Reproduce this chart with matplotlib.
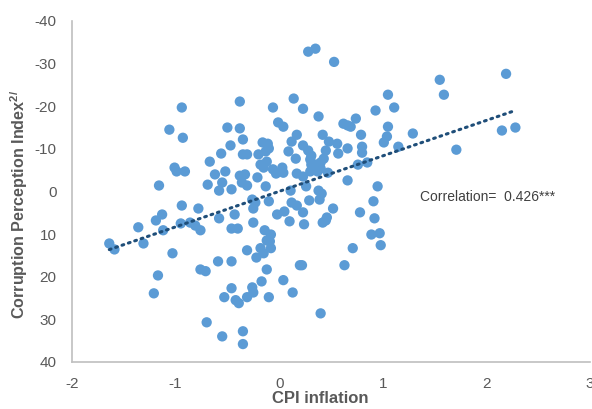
import matplotlib
matplotlib.use("Agg")
import matplotlib.pyplot as plt
import numpy as np

# CPI inflation (x) vs Corruption Perception Index (y)
cpi = [
    -1.64, -1.59, -1.36, -1.31, -1.21, -1.17, -1.19, -1.13, -1.12, -1.16,
    -1.03, -1.06, -0.94, -0.93, -1.01, -0.99, -0.91, -0.94, -0.95, -0.86,
    -0.81, -0.76, -0.78, -0.76, -0.71, -0.69, -0.67, -0.62, -0.58, -0.56,
    -0.55, -0.52, -0.50, -0.47, -0.46, -0.38, -0.38, -0.35, -0.35, -0.31,
    -0.38, -0.33, -0.36, -0.31, -0.21, -0.59, -0.58, -0.43, -0.46, -0.40,
    -0.46, -0.46, -0.53, -0.42, -0.39, -0.70, -0.55, -0.35, -0.35, -0.31,
    -0.31, -0.26, -0.25, -0.26, -0.23, -0.25, -0.25, -0.18, -0.15, -0.22,
    -0.17, -0.12, -0.10, -0.14, -0.12, -0.08, -0.09, -0.08, -0.10, -0.02,
    0.05, 0.04, 0.10, 0.12, 0.13, 0.20, -0.13, -0.16, -0.11, -0.20,
    -0.13, -0.10, -0.18, -0.12, -0.15, -0.06, 0.03, -0.03, 0.04, 0.09,
    -0.06, -0.01, 0.04, 0.12, 0.14, 0.17, 0.16, 0.17, 0.11, 0.23,
    0.28, 0.35, 0.53, 0.38, 0.62, 0.66, 0.69, 0.74, 0.93, 1.05,
    1.11, 1.05, 1.04, 1.01, 1.29, 1.15, 0.79, 0.80, 0.80, 0.42,
    0.48, 0.56, 0.66, 0.57, 0.45, 0.43, 0.23, 0.28, 0.31, 0.30,
    0.31, 0.36, 0.40, 0.40, 0.30, 0.37, 0.47, 0.23, 0.76, 0.85,
    0.66, 0.26, 0.95, 1.55, 1.59, 2.19, 2.15, 2.28, 1.71, 0.38,
    0.41, 0.39, 0.29, 0.17, 0.23, 0.52, 0.24, 0.42, 0.45, 0.46,
    0.78, 0.91, 0.92, 0.89, 0.97, 0.98, 0.71, 0.63, 0.22, 0.40,
]
cpi_index = [
    12.2, 13.6, 8.4, 12.2, 23.9, 19.7, 6.8, 5.4, 9.1, -1.4,
    14.5, -14.5, -19.7, -12.6, -5.6, -4.7, -4.7, 3.3, 7.5, 7.3,
    8.0, 9.1, 4.0, 18.3, 18.7, -1.6, -7.0, -4.0, -0.2, -8.9,
    -2.1, -4.7, -15.0, -10.8, -0.5, -21.1, -14.8, -12.2, -8.7, -8.7,
    -3.7, -4.0, -2.1, -1.4, -3.3, 16.4, 6.3, 5.4, 8.7, 8.7,
    16.4, 22.7, 24.8, 25.5, 26.2, 30.7, 34.0, 32.8, 35.8, 13.8,
    24.8, 22.5, 23.7, 1.9, 2.6, 4.0, 7.3, 13.3, 14.5, 15.5,
    21.1, 18.3, 24.8, 9.1, 11.5, 10.1, 11.7, 13.3, 2.3, 5.4,
    4.7, 20.8, 7.0, 2.6, 23.7, 17.3, -1.2, -11.5, -11.2, -8.7,
    -9.4, -10.1, -6.3, -7.0, -5.6, -5.2, -5.6, -4.2, -4.4, -9.4,
    -19.7, -16.2, -15.2, -11.7, -21.8, -13.3, -7.7, -4.2, -0.2, -19.4,
    -32.8, -33.5, -30.4, -17.6, -15.9, -15.5, -15.2, -17.1, -19.0, -22.7,
    -19.7, -15.2, -12.9, -11.5, -13.6, -10.5, -13.3, -10.5, -9.1, -13.3,
    -11.7, -11.2, -10.1, -8.9, -9.6, -7.7, -10.8, -9.6, -8.4, -7.5,
    -6.3, -6.3, -6.8, -5.4, -4.7, -4.7, -4.4, -3.5, -6.3, -6.8,
    -2.6, -1.2, -1.2, -26.2, -22.7, -27.6, -14.3, -15.0, -9.8, -0.2,
    0.5, 1.9, 2.1, 3.3, 4.9, 4.0, 7.7, 7.3, 6.8, 6.1,
    4.9, 2.3, 6.3, 10.1, 9.8, 12.6, 13.3, 17.3, 17.3, 28.6,
]

x_ticks = [-2, -1, 0, 1, 2, 3]
y_ticks = [-40, -30, -20, -10, 0, 10, 20, 30, 40]

plt.rcParams["font.family"] = ["Liberation Sans Narrow", "Liberation Sans", "DejaVu Sans"]
plt.rcParams["mathtext.default"] = "regular"
plt.rcParams["axes.unicode_minus"] = False

fig = plt.figure(figsize=(5.92, 4.09), dpi=100)
ax = fig.add_axes([0.1216, 0.115, 0.875, 0.8337])

ax.scatter(cpi, cpi_index, s=55, color="#5B9BD5", edgecolors="none", zorder=2)

# linear trendline over the data range
x = np.array(cpi)
y = np.array(cpi_index)
slope, intercept = np.polyfit(x, y, 1)
xs = np.array([x.min(), x.max()])
ax.plot(xs, slope * xs + intercept, color="#1F4E79", linewidth=2.2,
        linestyle=(0, (0.6, 1.6)), dash_capstyle="round", zorder=3)

ax.text(1.36, 1.2, "Correlation=  0.426***", fontsize=10, color="#404040",
        va="center", ha="left")

ax.set_xlim(-2, 3)
ax.set_ylim(40, -40)
ax.set_xticks(x_ticks)
ax.set_yticks(y_ticks)
ax.tick_params(length=0, labelsize=11, colors="#595959")
ax.tick_params(axis="x", pad=11)
ax.tick_params(axis="y", pad=11)

for side in ["top", "right"]:
    ax.spines[side].set_visible(False)
for side in ["left", "bottom"]:
    ax.spines[side].set_color("#BFBFBF")
    ax.spines[side].set_linewidth(1.2)

ax.set_xlabel("CPI inflation", fontsize=12, fontweight="bold", color="#595959")
ax.set_ylabel("Corruption Perception Index$^{2/}$", fontsize=11.6, fontweight="bold",
              color="#595959")
ax.xaxis.set_label_coords(0.479, -0.085)
ax.yaxis.set_label_coords(-0.081, 0.463)

fig.savefig("out.png", dpi=100)
